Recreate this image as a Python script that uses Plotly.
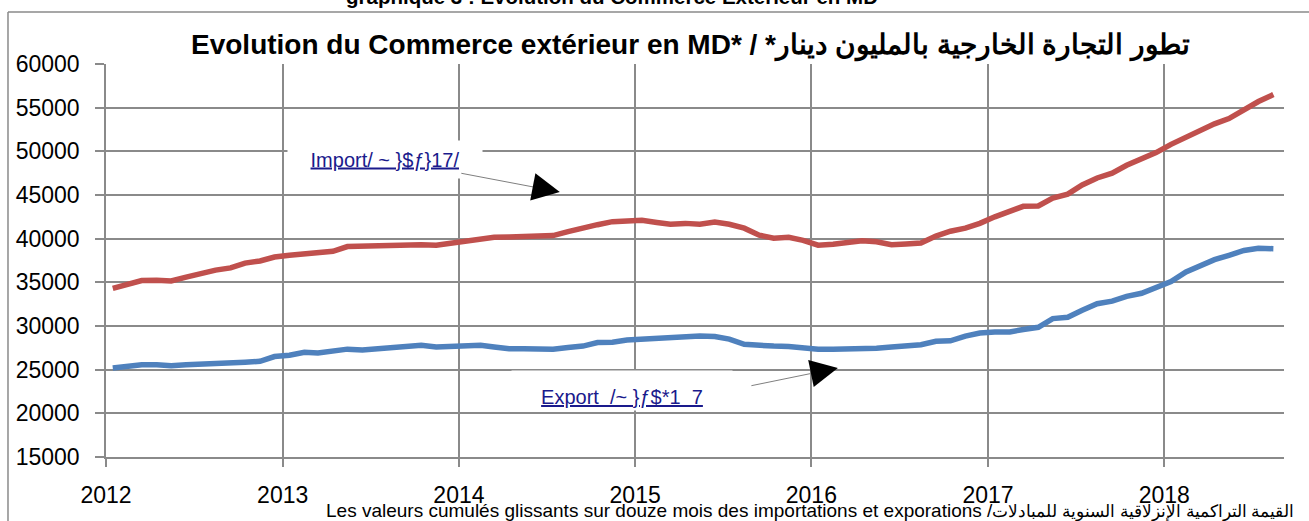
import pandas as pd
import plotly.graph_objects as go

# Monthly rolling 12-month cumulative values (MD), Jan 2012 .. Aug 2018
months = pd.date_range("2012-01-01", periods=80, freq="MS") + pd.Timedelta(days=14)

imports_md = [
    34300, 34800, 35200, 35250, 35150, 35600, 36050, 36400, 36650, 37200, 37450, 37900,
    38100, 38250, 38350, 38550, 39100, 39150, 39150, 39350, 39400, 39300, 39250, 39450,
    39650, 40000, 40150, 40200, 40200, 40250, 40350, 40800, 41250, 41600, 41950, 42050,
    42100, 41850, 41650, 41750, 41650, 41900, 41650, 41200, 40400, 40050, 40150, 39800,
    39250, 39350, 39600, 39750, 39650, 39300, 39400, 39500, 40300, 40850, 41200, 41750,
    42500, 43100, 43700, 43750, 44650, 45100, 46150, 46950, 47500, 48400, 49100, 49850,
    50800, 51600, 52400, 53150, 53750, 54800, 55700, 56500,
]

exports_md = [
    25200, 25450, 25550, 25550, 25450, 25550, 25600, 25650, 25650, 25850, 25950, 26500,
    26650, 27000, 26900, 27150, 27350, 27250, 27350, 27450, 27550, 27800, 27600, 27700,
    27700, 27800, 27600, 27400, 27400, 27350, 27350, 27550, 27700, 28100, 28150, 28400,
    28500, 28600, 28800, 28850, 28850, 28800, 28500, 27900, 27750, 27700, 27650, 27500,
    27350, 27350, 27350, 27400, 27450, 27600, 27800, 27850, 28250, 28300, 28850, 29200,
    29300, 29320, 29600, 29850, 30850, 31000, 31800, 32550, 32850, 33400, 33750, 34400,
    35100, 36200, 36900, 37600, 38100, 38650, 38900, 38850,
]

y_ticks = [15000, 20000, 25000, 30000, 35000, 40000, 45000, 50000, 55000, 60000]
year_ticks = ["2012", "2013", "2014", "2015", "2016", "2017", "2018"]

title_text = "Evolution du Commerce extérieur en MD* / *تطور التجارة الخارجية بالمليون دينار"
top_text = "graphique 3 : Evolution du Commerce Extérieur en MD"
footnote_fr = "Les valeurs cumulés glissants sur douze mois des importations et exporations /"
footnote_ar = "القيمة التراكمية الإنزلاقية السنوية للمبادلات"
import_label = "Import/ ~ }$ƒ}17/"
export_label = "Export  /~ }ƒ$*1  7"

GRID = "#8a8a8a"
FONT = "Liberation Sans, Arial, sans-serif"

fig = go.Figure()
fig.add_trace(go.Scatter(x=months, y=imports_md, mode="lines", name="Import",
                         line=dict(color="#C0504D", width=5.5)))
fig.add_trace(go.Scatter(x=months, y=exports_md, mode="lines", name="Export",
                         line=dict(color="#4F81BD", width=5.5)))

fig.update_layout(
    width=1309, height=521,
    margin=dict(l=106, r=25, t=64, b=64),
    paper_bgcolor="white", plot_bgcolor="white",
    showlegend=False,
    font=dict(family=FONT, color="black"),
)

fig.update_xaxes(
    type="date", range=["2012-01-01", "2018-09-06"],
    tickvals=[f"{y}-01-01" for y in year_ticks], ticktext=year_ticks,
    showgrid=True, gridcolor=GRID, gridwidth=1.5,
    showline=True, linecolor=GRID, linewidth=1.5,
    ticks="outside", ticklen=8, tickcolor=GRID, tickwidth=1.5,
    tickfont=dict(size=23, family=FONT, color="black"),
    ticklabelstandoff=9, zeroline=False,
)
fig.update_yaxes(
    range=[15000, 60000], tickvals=y_ticks, ticktext=[str(v) for v in y_ticks],
    showgrid=True, gridcolor=GRID, gridwidth=1.5,
    showline=True, linecolor=GRID, linewidth=1.5,
    ticks="outside", ticklen=9, tickcolor=GRID, tickwidth=1.5,
    tickfont=dict(size=23, family=FONT, color="black"),
    ticklabelstandoff=11, zeroline=False,
)

# frame of the chart object
fig.add_shape(type="line", xref="paper", yref="paper", x0=-0.0832, x1=1.05,
              y0=1.1323, y1=1.1323, line=dict(color=GRID, width=1.5))
fig.add_shape(type="line", xref="paper", yref="paper", x0=-0.0832, x1=-0.0832,
              y0=1.1323, y1=-0.25, line=dict(color=GRID, width=1.5))

# cropped caption at very top
fig.add_annotation(xref="paper", yref="paper", x=0.4295, y=1.138, xanchor="center",
                   yanchor="bottom", text=f"<b>{top_text}</b>", showarrow=False,
                   font=dict(size=20.5, family=FONT, color="black"))
# title
fig.add_annotation(xref="paper", yref="paper", x=0.496, y=1.048, xanchor="center",
                   yanchor="middle", text=f"<b>{title_text}</b>", showarrow=False,
                   font=dict(size=28, family=FONT, color="black"))
# footnote
fig.add_annotation(xref="paper", yref="paper", x=0.185, y=-0.137, xanchor="left",
                   yanchor="middle",
                   text=f"{footnote_fr}<span style='font-size:17px'>{footnote_ar}</span>",
                   showarrow=False, font=dict(size=19, family=FONT, color="black"))

# label boxes
fig.add_annotation(xref="paper", yref="paper", x=0.2368, y=0.758, xanchor="center",
                   yanchor="middle", text=f"<u>{import_label}</u>", showarrow=False,
                   bgcolor="white", width=190, height=33, borderpad=2,
                   font=dict(size=20, family=FONT, color="#1a1a8c"))
fig.add_annotation(xref="paper", yref="paper", x=0.438, y=0.168, xanchor="center",
                   yanchor="middle", text=f"<u>{export_label}</u>", showarrow=False,
                   bgcolor="white", width=216, height=35, borderpad=2, valign="bottom",
                   font=dict(size=20, family=FONT, color="#1a1a8c"))

# arrows: thin grey shaft + large black head
for tip_x, tip_y, ax, ay in [("2014-07-29", 45344, -100, -19), ("2016-02-25", 25192, -88, 18)]:
    fig.add_annotation(x=tip_x, y=tip_y, ax=ax, ay=ay, axref="pixel", ayref="pixel",
                       text="", showarrow=True, arrowhead=0, arrowwidth=1,
                       arrowcolor="#7f7f7f", standoff=10)
    s = 18 / (ax * ax + ay * ay) ** 0.5
    fig.add_annotation(x=tip_x, y=tip_y, ax=ax * s, ay=ay * s, axref="pixel", ayref="pixel",
                       text="", showarrow=True, arrowhead=2, arrowwidth=1, arrowsize=5.5,
                       arrowcolor="black")

fig.write_html("out.html", config={"displayModeBar": False},
               post_script="document.body.style.margin='0';")
